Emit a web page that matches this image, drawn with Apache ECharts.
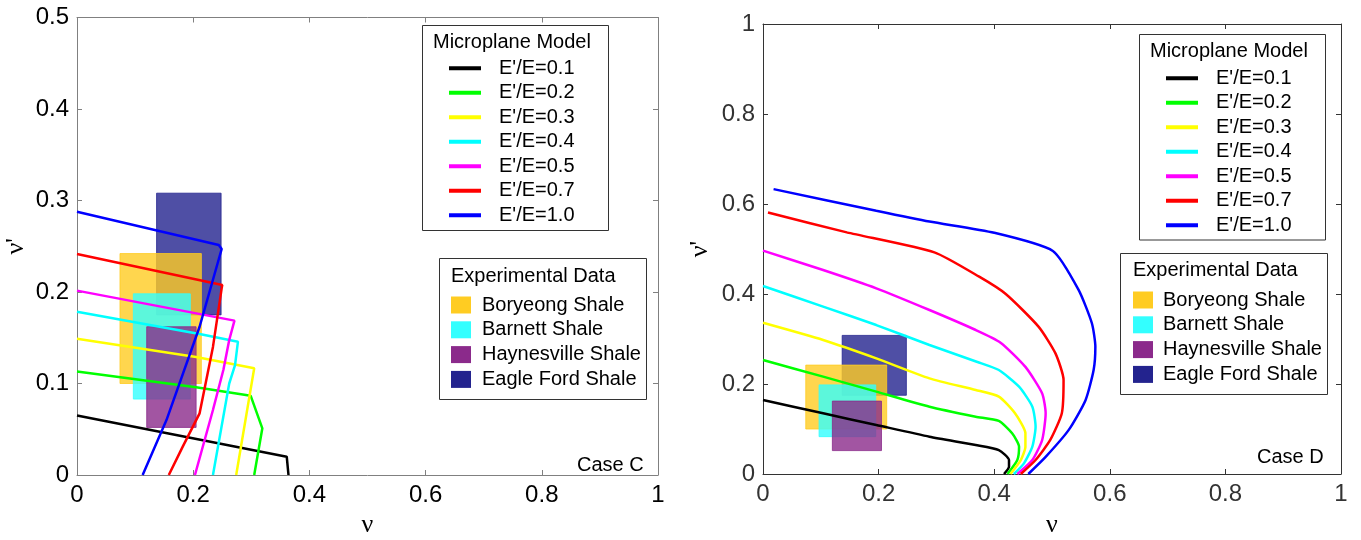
<!DOCTYPE html>
<html>
<head>
<meta charset="utf-8">
<script src="https://cdn.jsdelivr.net/npm/echarts/dist/echarts.min.js"></script>
<style>
html,body{margin:0;padding:0;background:#fff;}
#main{width:1361px;height:540px;}
</style>
</head>
<body>
<div id="main"></div>
<script>
// legend names of the model curves
var ratioNames = ["E'/E=0.1", "E'/E=0.2", "E'/E=0.3", "E'/E=0.4", "E'/E=0.5", "E'/E=0.7", "E'/E=1.0"];
var ratioColors = ['#000000', '#00ff00', '#ffff00', '#00ffff', '#ff00ff', '#ff0000', '#0000ff'];

// Case C, [nu, nu']
var caseC01 = [[0, 0.065], [0.361, 0.020], [0.364, 0]];
var caseC02 = [[0, 0.113], [0.205, 0.096], [0.299, 0.0865], [0.319, 0.051], [0.305, 0]];
var caseC03 = [[0, 0.149], [0.205, 0.129], [0.305, 0.1166], [0.274, 0]];
var caseC04 = [[0, 0.1785], [0.211, 0.154], [0.277, 0.1457], [0.272, 0.12], [0.262, 0.1], [0.248, 0.05], [0.234, 0]];
var caseC05 = [[0, 0.2015], [0.271, 0.1687], [0.262, 0.1475], [0.252, 0.115], [0.234, 0.071], [0.203, 0]];
var caseC07 = [[0, 0.2415], [0.25, 0.2077], [0.249, 0.204], [0.234, 0.14], [0.211, 0.0674], [0.182, 0.031], [0.158, 0]];
var caseC10 = [[0, 0.2878], [0.244, 0.2514], [0.249, 0.247], [0.211, 0.162], [0.154, 0.06], [0.113, 0]];

// Case D, [nu, nu']
var caseD01 = [[0, 0.1644], [0.104, 0.1348], [0.196, 0.1089], [0.288, 0.083], [0.368, 0.0644], [0.408, 0.0533], [0.4256, 0.031], [0.4256, 0.0163], [0.417, 0]];
var caseD02 = [[0, 0.2533], [0.104, 0.2163], [0.196, 0.183], [0.288, 0.1496], [0.368, 0.1274], [0.408, 0.118], [0.431, 0.0904], [0.443, 0.0607], [0.44, 0.031], [0.423, 0]];
var caseD03 = [[0, 0.336], [0.104, 0.2978], [0.196, 0.257], [0.288, 0.2126], [0.368, 0.1867], [0.408, 0.172], [0.436, 0.135], [0.454, 0.0904], [0.454, 0.0607], [0.446, 0.031], [0.428, 0]];
var caseD04 = [[0, 0.4178], [0.104, 0.372], [0.196, 0.331], [0.288, 0.2867], [0.371, 0.249], [0.408, 0.231], [0.443, 0.194], [0.466, 0.1496], [0.4716, 0.105], [0.466, 0.0607], [0.4515, 0.0237], [0.434, 0]];
var caseD05 = [[0, 0.4963], [0.104, 0.4533], [0.196, 0.4126], [0.288, 0.3644], [0.368, 0.32], [0.411, 0.2919], [0.454, 0.238], [0.483, 0.179], [0.489, 0.135], [0.483, 0.0756], [0.466, 0.031], [0.44, 0]];
var caseD07 = [[0.0086, 0.581], [0.145, 0.537], [0.2965, 0.4926], [0.374, 0.4385], [0.42, 0.40], [0.477, 0.327], [0.506, 0.268], [0.520, 0.209], [0.517, 0.135], [0.497, 0.0756], [0.4716, 0.031], [0.446, 0]];
var caseD10 = [[0.0183, 0.633], [0.196, 0.585], [0.288, 0.561], [0.40, 0.536], [0.5015, 0.4956], [0.546, 0.409], [0.569, 0.335], [0.575, 0.283], [0.572, 0.231], [0.558, 0.164], [0.529, 0.098], [0.489, 0.038], [0.459, 0]];

var caseCCurves = [caseC01, caseC02, caseC03, caseC04, caseC05, caseC07, caseC10];
var caseDCurves = [caseD01, caseD02, caseD03, caseD04, caseD05, caseD07, caseD10];

// experimental data boxes
var shaleNames = ['Boryeong Shale', 'Barnett Shale', 'Haynesville Shale', 'Eagle Ford Shale'];
var shaleColors = ['#ffcc22', '#33ffff', '#8b2a8b', '#23238e'];
var shaleNu = [[0.074, 0.214], [0.097, 0.195], [0.120, 0.205], [0.137, 0.248]];
var shaleNuPrime = [[0.100, 0.242], [0.083, 0.198], [0.052, 0.162], [0.175, 0.308]];
var shaleOrder = [3, 0, 1, 2]; // eagle ford at the back

var sans = 'Liberation Sans, Arial, sans-serif';
var serif = 'Liberation Serif, Times New Roman, serif';

var chart = echarts.init(document.getElementById('main'));

function makeAxis(gridIndex, pos, max, step, color, labelColor, showLabel, extra) {
    var ax = {
        type: 'value', gridIndex: gridIndex, position: pos,
        min: 0, max: max, interval: step,
        axisLine: {show: true, onZero: false, lineStyle: {color: color, width: 1}},
        axisTick: {show: true, inside: true, length: 5, lineStyle: {color: color}},
        axisLabel: {show: showLabel, fontSize: 24, fontFamily: sans, color: labelColor, margin: 8, showMinLabel: true, showMaxLabel: true},
        splitLine: {show: false}
    };
    for (var k in extra) ax[k] = extra[k];
    return ax;
}

function renderShale(params, api) {
    var p0 = api.coord([api.value(0), api.value(3)]);
    var p1 = api.coord([api.value(1), api.value(2)]);
    var c = api.visual('color');
    return {
        type: 'rect',
        shape: {x: p0[0], y: p0[1], width: p1[0] - p0[0], height: p1[1] - p0[1]},
        style: {fill: c, stroke: c, lineWidth: 1, opacity: 0.8}
    };
}

var series = [];
function addPanel(curves, xi, yi, smooth) {
    for (var i = 0; i < curves.length; i++) {
        series.push({
            name: ratioNames[i], type: 'line', xAxisIndex: xi, yAxisIndex: yi,
            data: curves[i], showSymbol: false, smooth: smooth, clip: true,
            lineStyle: {color: ratioColors[i], width: 2.5},
            itemStyle: {color: ratioColors[i]}
        });
    }
    shaleOrder.forEach(function (s) {
        series.push({
            name: shaleNames[s], type: 'custom', xAxisIndex: xi, yAxisIndex: yi,
            renderItem: renderShale,
            encode: {x: [0, 1], y: [2, 3]},
            itemStyle: {color: shaleColors[s]},
            data: [[shaleNu[s][0], shaleNu[s][1], shaleNuPrime[s][0], shaleNuPrime[s][1]]],
            z: 3
        });
    });
}
addPanel(caseCCurves, 0, 0, false);
addPanel(caseDCurves, 2, 2, 0.2);

function lineLegend(left, top) {
    return {
        left: left, top: top, orient: 'vertical', icon: 'rect', itemWidth: 32, itemHeight: 4,
        itemGap: 0, padding: 0, selectedMode: false, z: 20, data: ratioNames,
        textStyle: {fontSize: 20, fontFamily: sans, color: '#000', lineHeight: 24.5, padding: [0, 0, 0, 13]}
    };
}
function shaleLegend(left, top, pad) {
    return {
        left: left, top: top, orient: 'vertical', icon: 'rect', itemWidth: 20, itemHeight: 17,
        itemGap: 0, padding: 0, selectedMode: false, z: 20, data: shaleNames,
        textStyle: {fontSize: 20, fontFamily: sans, color: '#000', lineHeight: 24.8, padding: [0, 0, 0, pad]}
    };
}

function box(x, y, w, h) {
    return {type: 'rect', z: 10, shape: {x: x, y: y, width: w, height: h},
        style: {fill: '#fff', stroke: '#333', lineWidth: 1}};
}
function label(x, y, text) {
    return {type: 'text', z: 12, x: x, y: y,
        style: {text: text, fontSize: 20, fontFamily: sans, fill: '#000', verticalAlign: 'middle'}};
}

var option = {
    animation: false,
    backgroundColor: '#fff',
    grid: [
        {left: 77, top: 17.5, width: 581, height: 457.5, outerBoundsMode: 'none', containLabel: false},
        {left: 763, top: 24, width: 578, height: 450, outerBoundsMode: 'none', containLabel: false}
    ],
    xAxis: [
        makeAxis(0, 'bottom', 1, 0.2, '#808080', '#000', true,
            {name: 'ν', nameLocation: 'middle', nameGap: 30, nameTextStyle: {fontFamily: serif, fontSize: 26, color: '#000'}}),
        makeAxis(0, 'top', 1, 0.2, '#808080', '#000', false, {}),
        makeAxis(1, 'bottom', 1, 0.2, '#333', '#333', true,
            {name: 'ν', nameLocation: 'middle', nameGap: 38, nameTextStyle: {fontFamily: serif, fontSize: 26, color: '#000'}}),
        makeAxis(1, 'top', 1, 0.2, '#333', '#333', false, {})
    ],
    yAxis: [
        makeAxis(0, 'left', 0.5, 0.1, '#808080', '#000', true,
            {name: "ν'", nameLocation: 'middle', nameGap: 48, nameRotate: 90, nameTextStyle: {fontFamily: serif, fontSize: 26, color: '#000'}}),
        makeAxis(0, 'right', 0.5, 0.1, '#808080', '#000', false, {}),
        makeAxis(1, 'left', 1, 0.2, '#333', '#333', true,
            {name: "ν'", nameLocation: 'middle', nameGap: 50, nameRotate: 90, nameTextStyle: {fontFamily: serif, fontSize: 26, color: '#000'}}),
        makeAxis(1, 'right', 1, 0.2, '#333', '#333', false, {})
    ],
    legend: [
        lineLegend(449, 56),
        shaleLegend(451, 292.6, 6),
        lineLegend(1166, 66),
        shaleLegend(1133, 287.6, 5)
    ],
    graphic: [
        box(422.5, 25.5, 186, 205),
        label(433, 42, 'Microplane Model'),
        box(439.5, 258.5, 207, 141),
        label(451, 276, 'Experimental Data'),
        box(1139.5, 34.5, 186, 205.5),
        label(1150, 51, 'Microplane Model'),
        box(1120.5, 253.5, 207, 141),
        label(1133, 270, 'Experimental Data'),
        label(577, 465, 'Case C'),
        label(1257, 457, 'Case D')
    ],
    series: series
};
chart.setOption(option);
</script>
</body>
</html>
